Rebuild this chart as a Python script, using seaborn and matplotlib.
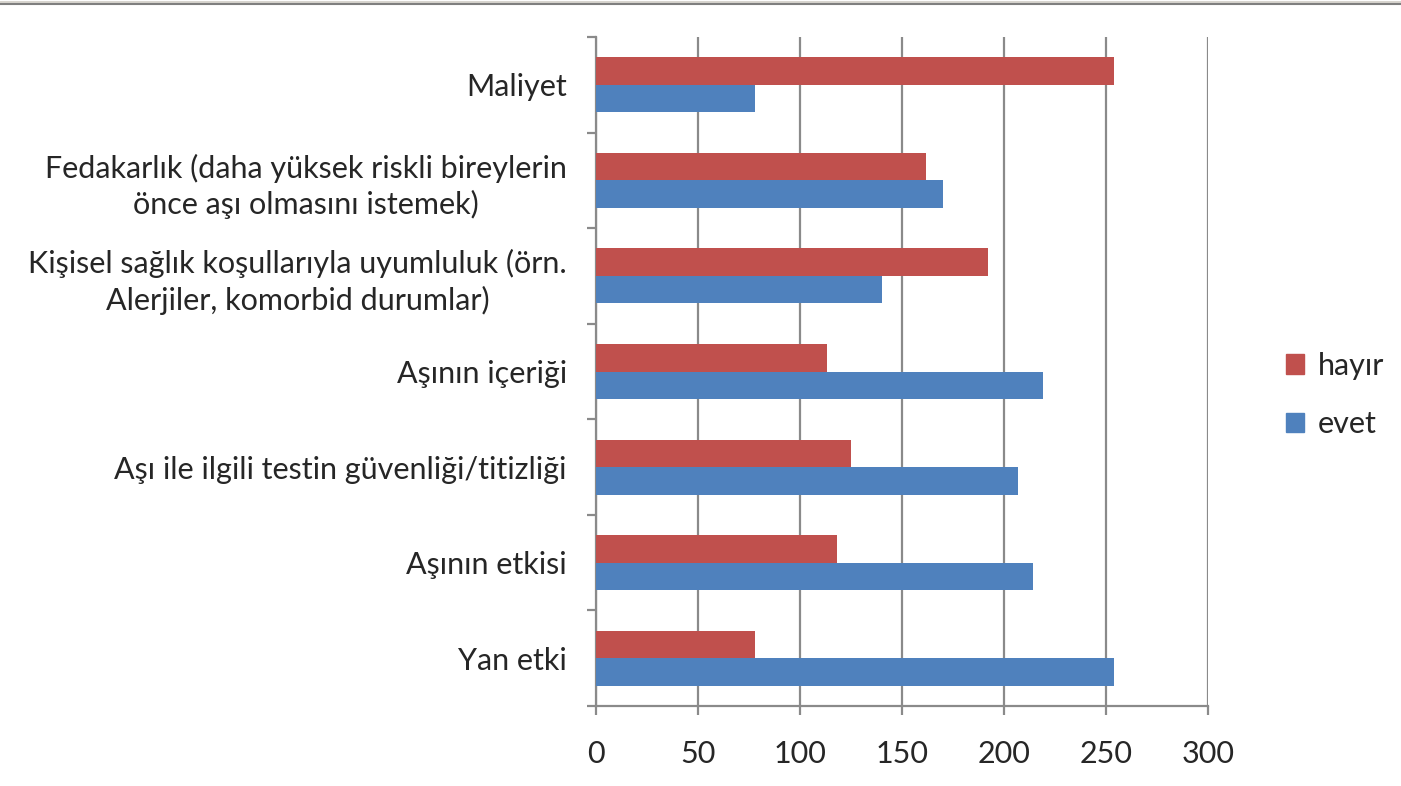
import pandas as pd
import numpy as np
import matplotlib
matplotlib.use("Agg")
import matplotlib.pyplot as plt
import seaborn as sns
from matplotlib.lines import Line2D

categories = [
    "Maliyet",
    "Fedakarlık (daha yüksek riskli bireylerin\nönce aşı olmasını istemek)",
    "Kişisel sağlık koşullarıyla uyumluluk (örn.\nAlerjiler, komorbid durumlar)",
    "Aşının içeriği",
    "Aşı ile ilgili testin güvenliği/titizliği",
    "Aşının etkisi",
    "Yan etki",
]
hayir = [254, 162, 192, 113, 125, 118, 78]
evet = [78, 170, 140, 219, 207, 214, 254]
series = ["hayır", "evet"]
colors = ["#C0504D", "#4F81BD"]
xticks = [0, 50, 100, 150, 200, 250, 300]

df = pd.DataFrame({"kategori": categories, "hayır": hayir, "evet": evet})
long_df = df.melt(id_vars="kategori", var_name="yanit", value_name="deger")

sns.set_style("white")
plt.rcParams["font.family"] = ["Lato", "DejaVu Sans"]

fig = plt.figure(figsize=(14.01, 7.86), dpi=100)
ax = fig.add_axes([596 / 1401, 80 / 786, 612 / 1401, 669 / 786])

grid_col = "#8A8A8A"
sns.barplot(data=long_df, y="kategori", x="deger", hue="yanit", hue_order=series,
            palette=colors, orient="h", width=0.575, saturation=1, ax=ax,
            order=categories, edgecolor="none", zorder=3)

ax.set_xlim(0, 300)
ax.set_ylim(6.5, -0.5)
ax.set_xticks(xticks)
ax.set_xlabel("")
ax.set_ylabel("")
ax.set_yticks(np.arange(-0.5, 7, 1), minor=True)

ax.grid(axis="x", color=grid_col, linewidth=1.6, zorder=0)
ax.set_axisbelow(True)
for s in ["top", "right"]:
    ax.spines[s].set_visible(False)
for s in ["left", "bottom"]:
    ax.spines[s].set_color(grid_col)
    ax.spines[s].set_linewidth(1.6)

ax.tick_params(axis="x", which="major", length=6.5, width=1.6, color=grid_col,
               labelsize=22, pad=18, direction="out", bottom=True)
ax.tick_params(axis="y", which="major", length=0, labelsize=22, pad=21)
ax.tick_params(axis="y", which="minor", length=6.5, width=1.6, color=grid_col,
               direction="out", left=True)
for t in ax.get_yticklabels():
    t.set_multialignment("center")
    t.set_linespacing(1.3)

handles = [plt.Rectangle((0, 0), 1, 1, color=c) for c in colors]
ax.get_legend().remove()
fig.legend(handles, series, loc="center left", bbox_to_anchor=(1286 / 1401, 1 - 395 / 786),
           frameon=False, fontsize=22, handlelength=0.6, handleheight=0.6,
           handletextpad=0.43, labelspacing=1.0, borderpad=0, borderaxespad=0)

# window border at the top
fig.add_artist(Line2D([0, 1], [1 - 1.5 / 786, 1 - 1.5 / 786], color="#D8D5CF", linewidth=2.2))
fig.add_artist(Line2D([0, 1], [1 - 4 / 786, 1 - 4 / 786], color="#7F7F7F", linewidth=1.5))

fig.savefig("out.png", dpi=100)
